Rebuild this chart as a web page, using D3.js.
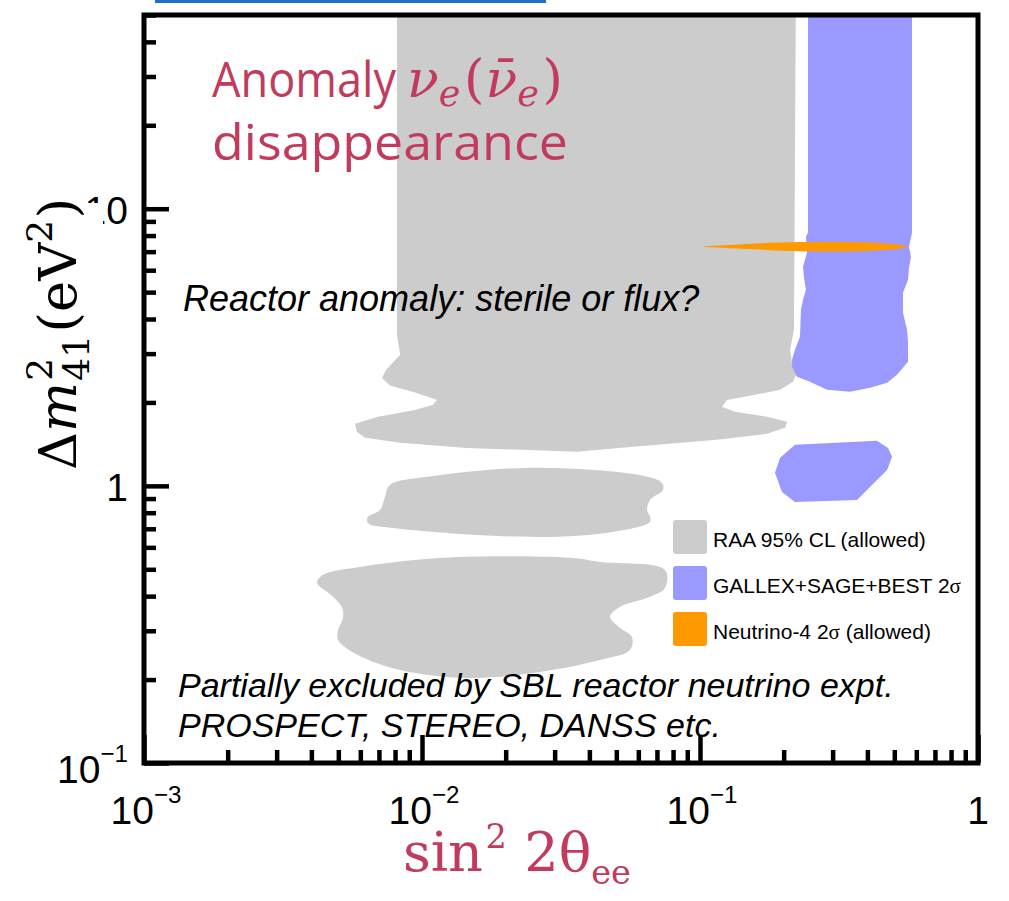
<!DOCTYPE html>
<html><head><meta charset="utf-8">
<script src="https://cdn.jsdelivr.net/npm/d3@7"></script>
<style>html,body{margin:0;padding:0;background:#fff;} svg{display:block;}</style>
</head><body>
<svg id="c" width="1009" height="901"></svg>
<script>
// ---------- data (sin^2 2θ, Δm^2 in eV^2) ----------
const raaMain = [[0.00813,60],[0.00813,3.51],[0.00834,2.97],[0.00742,2.62],[0.00718,2.45],[0.00767,2.30],[0.00944,2.17],[0.01132,2.04],[0.01095,1.96],[0.00944,1.88],[0.00695,1.775],[0.00574,1.674],[0.00583,1.567],[0.00624,1.490],[0.00834,1.430],[0.01452,1.371],[0.0361,1.327],[0.0574,1.383],[0.1151,1.466],[0.1742,1.541],[0.2023,1.620],[0.2056,1.702],[0.1742,1.775],[0.1337,1.850],[0.1199,1.929],[0.1250,2.04],[0.1514,2.113],[0.1941,2.222],[0.2160,2.374],[0.2234,2.558],[0.2143,2.780],[0.2109,3.097],[0.2178,3.658],[0.2213,60]];
const raaLobe2 = [[0.02386,1.161],[0.01042,1.078],[0.00767,1.008],[0.00736,0.913],[0.00706,0.819],[0.00639,0.773],[0.00639,0.735],[0.00787,0.705],[0.02615,0.654],[0.0483,0.682],[0.0661,0.741],[0.0661,0.773],[0.0645,0.819],[0.0661,0.890],[0.0736,0.967],[0.0730,1.025],[0.0624,1.087]];
const raaLobe3 = [[0.01190,0.550],[0.00598,0.510],[0.00455,0.485],[0.00430,0.469],[0.00419,0.447],[0.00479,0.398],[0.00516,0.363],[0.00520,0.334],[0.00499,0.302],[0.00499,0.278],[0.00588,0.2454],[0.00834,0.2167],[0.01452,0.2027],[0.02508,0.2113],[0.0437,0.2354],[0.0560,0.2558],[0.0569,0.2851],[0.0516,0.3071],[0.0475,0.3365],[0.0516,0.3659],[0.0661,0.398],[0.0748,0.428],[0.0748,0.4975],[0.0437,0.5315],[0.0341,0.550]];
const galliumMain = [[0.2446,60],[0.2446,8.19],[0.2406,7.92],[0.2426,6.94],[0.2347,6.17],[0.2366,5.63],[0.2406,5.10],[0.2347,4.69],[0.2308,4.32],[0.2289,3.45],[0.2196,3.097],[0.2143,2.85],[0.2143,2.69],[0.2234,2.475],[0.2487,2.374],[0.2862,2.222],[0.3464,2.185],[0.4089,2.258],[0.4708,2.353],[0.5112,2.516],[0.5600,2.804],[0.5600,3.311],[0.5554,3.658],[0.5373,4.21],[0.5373,4.98],[0.5600,5.54],[0.5646,6.12],[0.5741,6.71],[0.5646,7.29],[0.5789,8.19],[0.5789,60]];
const galliumLow = [[0.2196,1.406],[0.4332,1.454],[0.4747,1.371],[0.4905,1.273],[0.4708,1.142],[0.3670,0.890],[0.2196,0.875],[0.1972,0.951],[0.1861,1.114],[0.1941,1.262]];
const neutrino4 = [[0.1025,7.29],[0.1282,7.39],[0.1644,7.50],[0.2289,7.58],[0.3464,7.58],[0.4441,7.52],[0.5241,7.40],[0.5554,7.29],[0.5241,7.17],[0.4441,7.07],[0.3464,7.01],[0.2289,7.02],[0.1644,7.12],[0.1282,7.20]];

const legendLabels = ["RAA 95% CL (allowed)", "GALLEX+SAGE+BEST 2", "Neutrino-4 2"];
const legendSuffix = ["", "σ", "σ (allowed)"];
const seriesColors = ["#cccccc", "#9999ff", "#ff9900"];

const xTickLabels = [{v:1e-3, b:"10", e:"−3"},{v:1e-2, b:"10", e:"−2"},{v:1e-1, b:"10", e:"−1"},{v:1, b:"1", e:""}];
const yTickLabels = [{v:0.1, b:"10", e:"−1"},{v:1, b:"1", e:""},{v:10, b:"10", e:""}];

const annot1 = "Reactor anomaly: sterile or flux?";
const annot2 = ["Partially excluded by SBL reactor neutrino expt.", "PROSPECT, STEREO, DANSS etc."];

// ---------- layout ----------
const svg = d3.select("#c");
const L=144, R=978, T=15, B=763;
const crimson = "#c13b5c";
const x = d3.scaleLog().domain([1e-3,1]).range([L,R]);
const y = d3.scaleLog().domain([0.1,50]).range([B,T]);

// link underline remnant at top
svg.append("rect").attr("x",155).attr("y",0).attr("width",391).attr("height",3).attr("fill","#1f6fc8");

svg.append("defs").append("clipPath").attr("id","plotclip")
  .append("rect").attr("x",L).attr("y",T).attr("width",R-L).attr("height",B-T);

const gp = svg.append("g").attr("clip-path","url(#plotclip)");
const lineLin = d3.line().x(d=>x(d[0])).y(d=>y(d[1])).curve(d3.curveLinearClosed);
const lineSmooth = d3.line().x(d=>x(d[0])).y(d=>y(d[1])).curve(d3.curveCatmullRomClosed.alpha(0.5));

gp.append("path").attr("d",lineLin(raaMain)).attr("fill",seriesColors[0]);
gp.append("path").attr("d",lineSmooth(raaLobe2)).attr("fill",seriesColors[0]);
gp.append("path").attr("d",lineSmooth(raaLobe3)).attr("fill",seriesColors[0]);
gp.append("path").attr("d",lineLin(galliumMain)).attr("fill",seriesColors[1]);
gp.append("path").attr("d",lineLin(galliumLow)).attr("fill",seriesColors[1]);
gp.append("path").attr("d",lineSmooth(neutrino4)).attr("fill",seriesColors[2]);

// ticks
const isMajor = v => Math.abs(Math.log10(v) - Math.round(Math.log10(v))) < 1e-6;
const yt = y.ticks();
const xt = x.ticks();
function tickAxis(axis, tr){
  const g = svg.append("g").attr("transform",tr).call(axis);
  g.select(".domain").remove();
  g.selectAll("line").attr("stroke","#000").attr("stroke-width",4.5);
  g.selectAll("text").remove();
}
tickAxis(d3.axisRight(y).tickValues(yt.filter(v=>!isMajor(v))).tickSize(12).tickFormat(""), `translate(${L},0)`);
tickAxis(d3.axisRight(y).tickValues(yt.filter(isMajor)).tickSize(25).tickFormat(""), `translate(${L},0)`);
tickAxis(d3.axisTop(x).tickValues(xt.filter(v=>!isMajor(v))).tickSize(13).tickFormat(""), `translate(0,${B})`);
tickAxis(d3.axisTop(x).tickValues(xt.filter(isMajor)).tickSize(28).tickFormat(""), `translate(0,${B})`);

// frame
svg.append("rect").attr("x",L).attr("y",T).attr("width",R-L).attr("height",B-T)
  .attr("fill","none").attr("stroke","#000").attr("stroke-width",5);

// tick labels
const tickFont = "'Liberation Sans', Arial, sans-serif";
const tfs = 39;
function powLabel(g, d){
  const t = g.append("text").attr("font-family",tickFont).attr("font-size",tfs).attr("fill","#000");
  t.append("tspan").text(d.b);
  if (d.e) t.append("tspan").attr("font-size",tfs*0.62).attr("dy",-tfs*0.55).text(d.e);
  return t;
}
xTickLabels.forEach(d=>{
  const t = powLabel(svg, d);
  const w = t.node().getComputedTextLength();
  t.attr("x", x(d.v)-w/2 + (d.e? 2:0)).attr("y", 824);
});
yTickLabels.forEach(d=>{
  const t = powLabel(svg, d);
  const w = t.node().getComputedTextLength();
  t.attr("x", 128 - w).attr("y", y(d.v) + (d.v===0.1? 20:15));
});
// white background of the y-title (hides part of the "10" label as in the reference)
svg.append("rect").attr("x",0).attr("y",203).attr("width",103).attr("height",275).attr("fill","#fff");

// rich text helper: one <text> with positioned tspans
function rich(g, parts, fill){
  const widths = parts.map(p=>{
    const t = g.append("text").attr("font-family",p.ff).attr("font-size",p.fs)
      .attr("font-style",p.it?"italic":"normal").text(p.t);
    const w = t.node().getComputedTextLength(); t.remove(); return w;
  });
  const txt = g.append("text").attr("fill",fill||"#000");
  let cx = 0;
  parts.forEach((p,i)=>{
    txt.append("tspan").attr("x",cx).attr("y",p.dy||0)
      .attr("font-family",p.ff).attr("font-size",p.fs)
      .attr("font-style",p.it?"italic":"normal").text(p.t);
    if (!p.stack) cx += widths[i] + (p.gap||0);
  });
  return cx;
}

const serif = "'DejaVu Serif', serif";
// y-axis title
{
  const gy = svg.append("g");
  const s = 44;
  const w = rich(gy, [
    {t:"Δ", ff:serif, fs:s},
    {t:"m", ff:serif, fs:s, it:true, gap:1},
    {t:"2", ff:serif, fs:s*0.68, dy:-s*0.45, stack:true},
    {t:"41", ff:serif, fs:s*0.68, dy:s*0.24, gap:2},
    {t:"(eV", ff:serif, fs:s},
    {t:"2", ff:serif, fs:s*0.68, dy:-s*0.45, gap:1},
    {t:")", ff:serif, fs:s}
  ], "#000");
  const k = 272 / w;
  gy.attr("transform", `translate(76,470) rotate(-90) scale(${k})`);
}

// x-axis title
{
  const gx = svg.append("g");
  const s = 44;
  const w = rich(gx, [
    {t:"sin", ff:serif, fs:s, gap:2},
    {t:"2", ff:serif, fs:s*0.62, dy:-s*0.42, gap:s*0.32},
    {t:"2θ", ff:serif, fs:s},
    {t:"ee", ff:serif, fs:s*0.62, dy:s*0.24}
  ], crimson);
  const k = 228 / w;
  gx.attr("transform", `translate(403,871) scale(${k})`);
}

// title "Anomaly νe(ν̄e) disappearance"
{
  const sans = "'Open Sans', 'Noto Sans', sans-serif";
  const s = 49;
  svg.append("text").attr("x",212).attr("y",97).attr("font-family",sans).attr("font-size",s)
    .attr("fill",crimson).attr("textLength",184).attr("lengthAdjust","spacingAndGlyphs").text("Anomaly");
  svg.append("text").attr("x",212).attr("y",160).attr("font-family",sans).attr("font-size",s)
    .attr("fill",crimson).attr("textLength",356).attr("lengthAdjust","spacingAndGlyphs").text("disappearance");
  const gn = svg.append("g");
  const q = 44;
  const w = rich(gn, [
    {t:"ν", ff:serif, fs:q, it:true},
    {t:"e", ff:serif, fs:q*0.7, it:true, dy:q*0.17, gap:3},
    {t:"(", ff:serif, fs:q, gap:1},
    {t:"ν\u0304", ff:serif, fs:q, it:true},
    {t:"e", ff:serif, fs:q*0.7, it:true, dy:q*0.17, gap:3},
    {t:")", ff:serif, fs:q}
  ], crimson);
  gn.attr("transform", `translate(407,97) scale(${156/w})`);
}

// annotations
const itFont = "'Liberation Sans', Arial, sans-serif";
svg.append("text").attr("x",183).attr("y",311).attr("font-family",itFont).attr("font-style","italic")
  .attr("font-size",36).attr("fill","#000").text(annot1);
annot2.forEach((s,i)=>{
  svg.append("text").attr("x",178).attr("y",697+i*40).attr("font-family",itFont).attr("font-style","italic")
    .attr("font-size",34).attr("fill","#000").text(s);
});

// legend
legendLabels.forEach((lab,i)=>{
  const yy = 520 + i*46;
  svg.append("rect").attr("x",673).attr("y",yy).attr("width",34).attr("height",34).attr("rx",3)
    .attr("fill",seriesColors[i]);
  const t = svg.append("text").attr("x",713).attr("y",yy+27).attr("font-family",itFont)
    .attr("font-size",21).attr("fill","#000");
  t.append("tspan").text(lab);
  const suf = legendSuffix[i];
  if (suf) {
    t.append("tspan").attr("font-family","'Liberation Serif', serif").text(suf[0]);
    if (suf.length>1) t.append("tspan").text(suf.slice(1));
  }
});
</script>
</body></html>
